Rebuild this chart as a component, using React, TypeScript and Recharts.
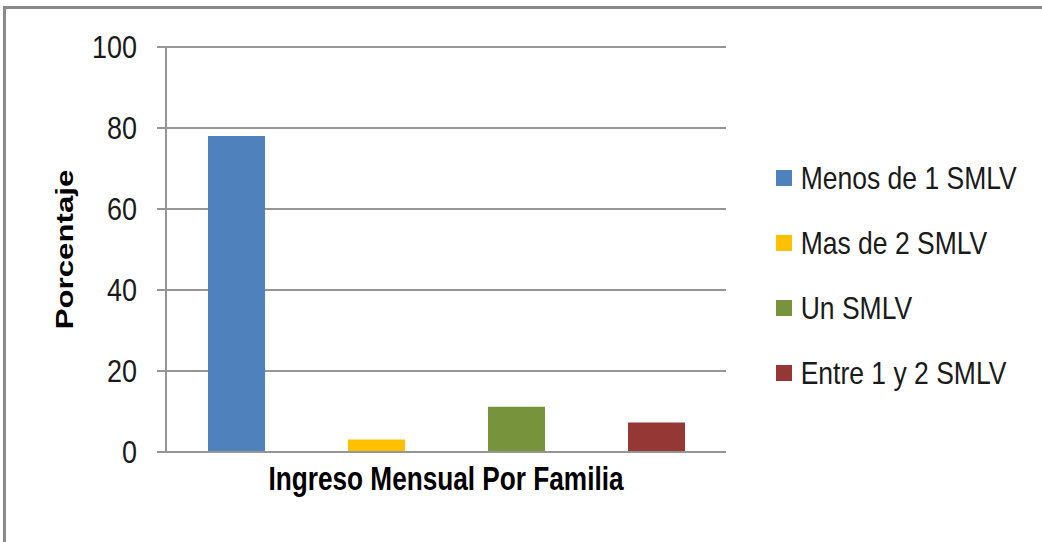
import React from 'react';
import { BarChart, Bar, XAxis, YAxis, CartesianGrid, Legend } from 'recharts';

const categories = ['Ingreso Mensual Por Familia'];
const seriesKeys = ['menos', 'mas', 'un', 'entre'];
const seriesNames = ['Menos de 1 SMLV', 'Mas de 2 SMLV', 'Un SMLV', 'Entre 1 y 2 SMLV'];
const seriesValues = [78, 3.1, 11.2, 7.3];
const seriesColors = ['#4F81BD', '#FFC000', '#77933C', '#953735'];
const yTicks = [0, 20, 40, 60, 80, 100];
const yTitle = 'Porcentaje';

const data = categories.map((c) => {
  const row: Record<string, string | number> = { name: c };
  seriesKeys.forEach((k, i) => {
    row[k] = seriesValues[i];
  });
  return row;
});

const FONT = '"Liberation Sans", Arial, sans-serif';
const GRID = '#959595';

const YTick = (props: any) => {
  const { x, y, payload } = props;
  return (
    <text
      transform={`translate(${x},${y}) scale(1,1.17)`}
      x={0}
      y={0}
      dy="0.36em"
      textAnchor="end"
      fontFamily={FONT}
      fontSize={27}
      fill="#1a1a1a"
    >
      {payload.value}
    </text>
  );
};

const XLabel = (props: any) => {
  const vb = props.viewBox || {};
  const cx = vb.x + vb.width / 2;
  return (
    <text
      transform={`translate(${cx},490) scale(1,1.25)`}
      x={0}
      y={0}
      textAnchor="middle"
      fontFamily={FONT}
      fontWeight="bold"
      fontSize={26.2}
      fill="#000"
    >
      {categories[0]}
    </text>
  );
};

const YLabel = (props: any) => {
  const vb = props.viewBox || {};
  const cy = vb.y + vb.height / 2;
  return (
    <text
      transform={`translate(73,${cy}) rotate(-90) scale(1.3,1)`}
      x={0}
      y={0}
      textAnchor="middle"
      fontFamily={FONT}
      fontWeight="bold"
      fontSize={24}
      fill="#000"
    >
      {yTitle}
    </text>
  );
};

const LegendContent = () => (
  <svg width={272} height={280} style={{ display: 'block' }}>
    {seriesNames.map((n, i) => {
      const cy = 38 + i * 65;
      return (
        <g key={n}>
          <rect x={6} y={cy - 8} width={16} height={16} fill={seriesColors[i]} />
          <text
            transform={`translate(30.7,${cy + 11}) scale(1,1.16)`}
            x={0}
            y={0}
            fontFamily={FONT}
            fontSize={26.5}
            fill="#1a1a1a"
          >
            {n}
          </text>
        </g>
      );
    })}
  </svg>
);

export default function App() {
  return (
    <div
      style={{
        position: 'absolute',
        left: 0,
        top: 0,
        width: 1042,
        height: 542,
        overflow: 'hidden',
        background: '#fff',
      }}
    >
      <div
        style={{
          position: 'absolute',
          left: 3,
          top: 6,
          width: 1100,
          height: 600,
          borderLeft: '3px solid #8a8a8a',
          borderTop: '3px solid #8a8a8a',
        }}
      />
      <div style={{ position: 'absolute', left: 0, top: 0 }}>
        <BarChart
          width={1042}
          height={542}
          data={data}
          margin={{ top: 47, right: 316, left: 0, bottom: 60 }}
          barSize={57}
          barGap={83}
        >
          <CartesianGrid horizontal vertical={false} stroke={GRID} strokeWidth={2} />
          <XAxis
            dataKey="name"
            tick={false}
            tickLine={false}
            axisLine={{ stroke: GRID, strokeWidth: 2 }}
            height={30}
            label={<XLabel />}
          />
          <YAxis
            width={166}
            domain={[0, 100]}
            ticks={yTicks}
            interval={0}
            tickSize={9}
            tickMargin={20}
            tickLine={{ stroke: GRID, strokeWidth: 2 }}
            axisLine={{ stroke: GRID, strokeWidth: 2 }}
            tick={<YTick />}
            label={<YLabel />}
          />
          <Legend
            layout="vertical"
            align="center"
            verticalAlign="middle"
            wrapperStyle={{ position: 'absolute', left: 770, top: 140, width: 272, height: 280 }}
            content={<LegendContent />}
          />
          {seriesKeys.map((k, i) => (
            <Bar
              key={k}
              dataKey={k}
              name={seriesNames[i]}
              fill={seriesColors[i]}
              isAnimationActive={false}
            />
          ))}
        </BarChart>
      </div>
    </div>
  );
}
